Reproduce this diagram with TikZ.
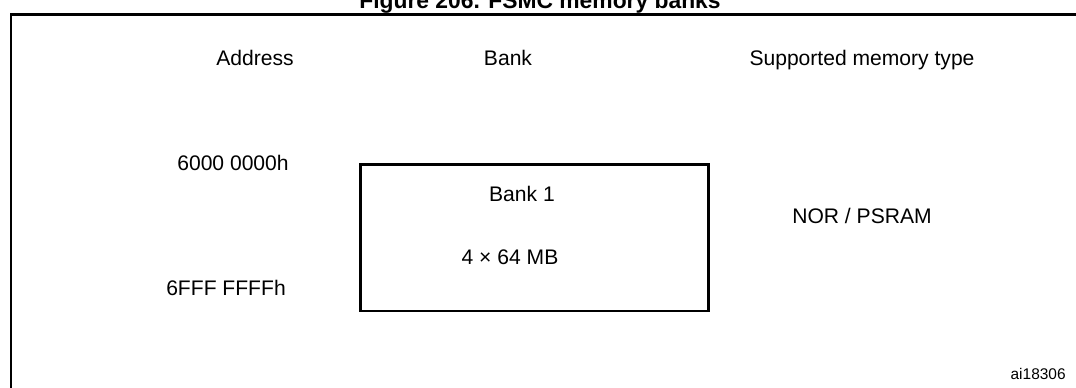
\documentclass[tikz,border=0pt]{standalone}
\usepackage{fontspec}
\setmainfont{Liberation Sans}
\usetikzlibrary{positioning}

\begin{document}
\begin{tikzpicture}[
    x=0.02cm, y=-0.02cm,
    lbl/.style={anchor=base, inner sep=0pt, font=\fontsize{12}{14}\selectfont},
    bankbox/.style={draw, line width=1.7pt},
    frame/.style={line width=1.7pt}
  ]
  \useasboundingbox (0,0) rectangle (1076,387);

  %% ---- title and frame ----
  \node[anchor=base, inner sep=0pt, font=\fontsize{13}{15}\selectfont\bfseries]
    (title) at (540,8) {Figure 206. FSMC memory banks};
  \draw[frame] (11,400) -- (11,14) -- (1090,14);

  %% ---- column headers ----
  \node[lbl] (hd_addr) at (255,65) {Address};
  \node[lbl] (hd_bank) at (508,65) {Bank};
  \node[lbl] (hd_type) at (862,65) {Supported memory type};

  %% ---- bank 1 ----
  \node[bankbox, minimum width=6.98cm, minimum height=2.94cm] (bank1) at (534.5,237.5) {};
  \node[lbl] (bank1_name) at (522,201) {Bank 1};
  \node[lbl] (bank1_size) at (510,264) {4 × 64 MB};

  \node[lbl] (addr_lo) at (233,170) {6000 0000h};
  \node[lbl] (addr_hi) at (226,295) {6FFF FFFFh};
  \node[lbl] (type1)   at (862,223) {NOR / PSRAM};

  \node[anchor=base east, inner sep=0pt, font=\fontsize{8.8}{10}\selectfont]
    (figid) at (1066,379) {ai18306};

\end{tikzpicture}
\end{document}
